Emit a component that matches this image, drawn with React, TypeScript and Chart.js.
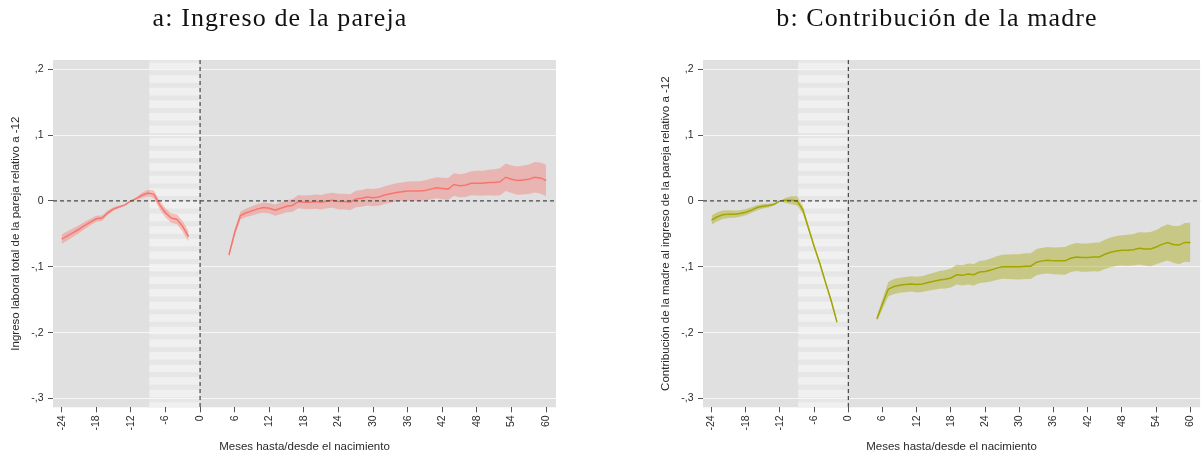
import React, { useEffect, useRef } from "react";
import { Chart, registerables } from "chart.js";

Chart.register(...registerables);

// Months relative to birth
const preMonths = [-24, -23, -22, -21, -20, -19, -18, -17, -16, -15, -14, -13, -12, -11, -10, -9, -8, -7, -6, -5, -4, -3, -2];
const postMonths = [5, 6, 7, 8, 9, 10, 11, 12, 13, 14, 15, 16, 17, 18, 19, 20, 21, 22, 23, 24, 25, 26, 27, 28, 29, 30, 31, 32, 33, 34, 35, 36, 37, 38, 39, 40, 41, 42, 43, 44, 45, 46, 47, 48, 49, 50, 51, 52, 53, 54, 55, 56, 57, 58, 59, 60];

// Panel a: total couple labour income relative to month -12
const incomePre = [-0.058, -0.053, -0.048, -0.043, -0.037, -0.032, -0.027, -0.026, -0.018, -0.012, -0.009, -0.006, 0.0, 0.004, 0.009, 0.012, 0.010, -0.006, -0.018, -0.026, -0.028, -0.039, -0.054];
const incomePreCi = [0.007, 0.007, 0.0065, 0.006, 0.0055, 0.005, 0.0045, 0.004, 0.0035, 0.003, 0.002, 0.001, 0.0, 0.002, 0.004, 0.005, 0.006, 0.0065, 0.007, 0.007, 0.0075, 0.008, 0.008];
const incomePost = [-0.082, -0.048, -0.022, -0.018, -0.015, -0.012, -0.010, -0.011, -0.014, -0.011, -0.008, -0.007, -0.001, -0.002, -0.002, -0.001, -0.002, 0.0, 0.001, -0.001, -0.001, -0.002, 0.003, 0.004, 0.006, 0.005, 0.006, 0.009, 0.011, 0.013, 0.014, 0.015, 0.015, 0.015, 0.016, 0.018, 0.020, 0.019, 0.018, 0.025, 0.023, 0.024, 0.027, 0.027, 0.027, 0.028, 0.028, 0.029, 0.036, 0.033, 0.031, 0.032, 0.033, 0.036, 0.035, 0.031];
const incomePostCi = [0.003, 0.005, 0.006, 0.0065, 0.007, 0.0075, 0.0078, 0.008, 0.0085, 0.009, 0.0093, 0.0097, 0.010, 0.0102, 0.0105, 0.0107, 0.011, 0.0112, 0.0115, 0.0118, 0.012, 0.0122, 0.0125, 0.0127, 0.013, 0.013, 0.0132, 0.0135, 0.0138, 0.014, 0.0142, 0.0145, 0.0148, 0.015, 0.0153, 0.0156, 0.016, 0.0163, 0.0167, 0.017, 0.0175, 0.018, 0.0183, 0.0187, 0.019, 0.0195, 0.020, 0.0205, 0.021, 0.021, 0.0215, 0.022, 0.0225, 0.023, 0.0235, 0.024];

// Panel b: mother's contribution to couple income relative to month -12
const motherPre = [-0.029, -0.024, -0.021, -0.020, -0.020, -0.019, -0.017, -0.014, -0.010, -0.008, -0.007, -0.005, 0.0, 0.001, 0.001, 0.0, -0.013, -0.041, -0.069, -0.095, -0.124, -0.152, -0.184];
const motherPreCi = [0.007, 0.0068, 0.0065, 0.006, 0.0055, 0.005, 0.0047, 0.0043, 0.004, 0.0035, 0.0028, 0.0015, 0.0, 0.004, 0.006, 0.007, 0.006, 0.004, 0.0035, 0.003, 0.003, 0.003, 0.003];
const motherPost = [-0.179, -0.156, -0.134, -0.130, -0.128, -0.127, -0.126, -0.127, -0.126, -0.124, -0.122, -0.120, -0.119, -0.117, -0.112, -0.113, -0.111, -0.112, -0.108, -0.107, -0.105, -0.102, -0.100, -0.100, -0.100, -0.100, -0.099, -0.099, -0.093, -0.091, -0.090, -0.091, -0.091, -0.091, -0.087, -0.085, -0.086, -0.086, -0.085, -0.085, -0.081, -0.078, -0.076, -0.075, -0.075, -0.074, -0.072, -0.073, -0.073, -0.070, -0.066, -0.063, -0.066, -0.067, -0.063, -0.063];
const motherPostCi = [0.004, 0.008, 0.011, 0.0115, 0.0115, 0.0115, 0.0115, 0.012, 0.0122, 0.0125, 0.013, 0.0135, 0.014, 0.0145, 0.015, 0.0155, 0.016, 0.0163, 0.0167, 0.017, 0.0175, 0.018, 0.0183, 0.0187, 0.019, 0.0192, 0.0195, 0.0197, 0.020, 0.020, 0.0202, 0.0205, 0.0207, 0.021, 0.021, 0.0212, 0.0215, 0.0215, 0.0217, 0.022, 0.0222, 0.0225, 0.0228, 0.023, 0.0235, 0.024, 0.0245, 0.025, 0.026, 0.026, 0.027, 0.0275, 0.028, 0.029, 0.0295, 0.030];

// Axis ticks
const xTickValues = [-24, -18, -12, -6, 0, 6, 12, 18, 24, 30, 36, 42, 48, 54, 60];
const yTickValues = [-0.3, -0.2, -0.1, 0, 0.1, 0.2];
const yTickLabels = ["-,3", "-,2", "-,1", "0", ",1", ",2"];

// Pregnancy window shown with a striped backdrop
const stripeFrom = -8.8;
const stripeTo = -0.15;

const X_MIN = -25.5;
const X_MAX = 61.7;
const Y_MIN = -0.3134;
const Y_MAX = 0.2141;

const CANVAS_H = 455;
const PLOT_TOP = 60;
const PLOT_BOTTOM = 407.3;
const PLOT_LEFT = 53;
const PLOT_W = 503;

const SANS = "'Liberation Sans', Arial, sans-serif";

const toPoints = (xs: number[], ys: number[]) => xs.map((x, i) => ({ x, y: ys[i] }));
const shift = (ys: number[], ci: number[], sign: number) => ys.map((v, i) => v + sign * ci[i]);

const panelDecor = {
  id: "panelDecor",
  beforeDraw(chart: any) {
    const { ctx, chartArea, scales } = chart;
    const { left, top, right, bottom } = chartArea;
    ctx.save();
    ctx.fillStyle = "#e0e0e0";
    ctx.fillRect(left, top, right - left, bottom - top);
    const x0 = scales.x.getPixelForValue(stripeFrom);
    const x1 = scales.x.getPixelForValue(stripeTo);
    ctx.fillStyle = "#e6e6e6";
    ctx.fillRect(x0, top, x1 - x0, bottom - top);
    ctx.fillStyle = "#f0f0f0";
    for (let y = top + 2.7; y < bottom; y += 12.58) {
      ctx.fillRect(x0, y, x1 - x0, Math.min(7.5, bottom - y));
    }
    ctx.restore();
  },
  afterDatasetsDraw(chart: any) {
    const { ctx, chartArea, scales } = chart;
    const { left, top, right, bottom } = chartArea;
    const y0 = scales.y.getPixelForValue(0);
    const x0 = scales.x.getPixelForValue(0);
    ctx.save();
    ctx.strokeStyle = "#4a4a4a";
    ctx.lineWidth = 1.2;
    ctx.setLineDash([4, 3]);
    ctx.beginPath();
    ctx.moveTo(left, y0);
    ctx.lineTo(right, y0);
    ctx.moveTo(x0, top);
    ctx.lineTo(x0, bottom);
    ctx.stroke();
    ctx.restore();
  },
};

type PanelProps = {
  left: number;
  width: number;
  pre: number[];
  preCi: number[];
  post: number[];
  postCi: number[];
  line: string;
  band: string;
  yTitle: string;
};

function Panel({ left, width, pre, preCi, post, postCi, line, band, yTitle }: PanelProps) {
  const ref = useRef<HTMLCanvasElement | null>(null);

  useEffect(() => {
    if (!ref.current) return;
    const bandSet = (data: any, fill: any) => ({
      data,
      borderWidth: 0,
      pointRadius: 0,
      backgroundColor: band,
      fill,
      tension: 0,
    });
    const lineSet = (data: any) => ({
      data,
      borderColor: line,
      borderWidth: 1.5,
      pointRadius: 0,
      fill: false,
      tension: 0,
    });
    const chart = new Chart(ref.current, {
      type: "line",
      data: {
        datasets: [
          bandSet(toPoints(preMonths, shift(pre, preCi, 1)), "+1"),
          bandSet(toPoints(preMonths, shift(pre, preCi, -1)), false),
          bandSet(toPoints(postMonths, shift(post, postCi, 1)), "+1"),
          bandSet(toPoints(postMonths, shift(post, postCi, -1)), false),
          lineSet(toPoints(preMonths, pre)),
          lineSet(toPoints(postMonths, post)),
        ] as any,
      },
      options: {
        animation: false,
        responsive: false,
        maintainAspectRatio: false,
        layout: { padding: { top: PLOT_TOP, left: 0, bottom: 0, right: width - PLOT_LEFT - PLOT_W } },
        plugins: { legend: { display: false }, tooltip: { enabled: false } },
        scales: {
          x: {
            type: "linear",
            min: X_MIN,
            max: X_MAX,
            afterBuildTicks: (s: any) => {
              s.ticks = xTickValues.map((v) => ({ value: v }));
            },
            afterFit: (s: any) => {
              s.height = CANVAS_H - PLOT_BOTTOM;
            },
            ticks: {
              autoSkip: false,
              minRotation: 90,
              maxRotation: 90,
              padding: 3,
              color: "#2a2a2a",
              font: { family: SANS, size: 10.5 },
              callback: (v: any) => String(v),
            },
            grid: { drawOnChartArea: false, tickLength: 5, tickColor: "#555555", tickWidth: 1 },
            border: { display: false },
            title: {
              display: true,
              text: "Meses hasta/desde el nacimiento",
              color: "#2a2a2a",
              font: { family: SANS, size: 11.5 },
              padding: { top: 0, bottom: 1 },
            },
          },
          y: {
            type: "linear",
            min: Y_MIN,
            max: Y_MAX,
            afterBuildTicks: (s: any) => {
              s.ticks = yTickValues.map((v) => ({ value: v }));
            },
            afterFit: (s: any) => {
              s.width = PLOT_LEFT;
            },
            ticks: {
              padding: 4.5,
              color: "#2a2a2a",
              font: { family: SANS, size: 10.5 },
              callback: (v: any) => {
                const i = yTickValues.findIndex((t) => Math.abs(t - v) < 1e-9);
                return i >= 0 ? yTickLabels[i] : "";
              },
            },
            grid: {
              color: (c: any) => (c.tick && Math.abs(c.tick.value) < 1e-9 ? "rgba(0,0,0,0)" : "#f6f6f6"),
              lineWidth: 1,
              tickLength: 5,
              tickColor: "#555555",
            },
            border: { display: false },
            title: {
              display: true,
              text: yTitle,
              color: "#2a2a2a",
              font: { family: SANS, size: 11.5 },
              padding: { top: 9, bottom: 0 },
            },
          },
        },
      },
      plugins: [panelDecor],
    });
    return () => chart.destroy();
  }, []);

  return (
    <canvas
      ref={ref}
      width={width}
      height={CANVAS_H}
      style={{ position: "absolute", left, top: 0, width, height: CANVAS_H }}
    />
  );
}

const titleStyle = (center: number): React.CSSProperties => ({
  position: "absolute",
  left: center - 300,
  top: 0,
  width: 600,
  textAlign: "center",
  fontFamily: "'Liberation Serif', 'Times New Roman', serif",
  fontSize: 26,
  letterSpacing: 1.1,
  lineHeight: "36px",
  color: "#111111",
  whiteSpace: "nowrap",
});

export default function App() {
  return (
    <div
      style={{
        position: "fixed",
        left: 0,
        top: 0,
        width: 1201,
        height: 455,
        overflow: "hidden",
        background: "#ffffff",
      }}
    >
      <Panel
        left={0}
        width={600}
        pre={incomePre}
        preCi={incomePreCi}
        post={incomePost}
        postCi={incomePostCi}
        line="#F8766D"
        band="rgba(248,118,109,0.4)"
        yTitle="Ingreso laboral total de la pareja relativo a -12"
      />
      <Panel
        left={650}
        width={556}
        pre={motherPre}
        preCi={motherPreCi}
        post={motherPost}
        postCi={motherPostCi}
        line="#A3A500"
        band="rgba(163,165,0,0.4)"
        yTitle="Contribución de la madre al ingreso de la pareja relativo a -12"
      />
      <div style={titleStyle(280)}>a: Ingreso de la pareja</div>
      <div style={titleStyle(937)}>b: Contribución de la madre</div>
    </div>
  );
}
